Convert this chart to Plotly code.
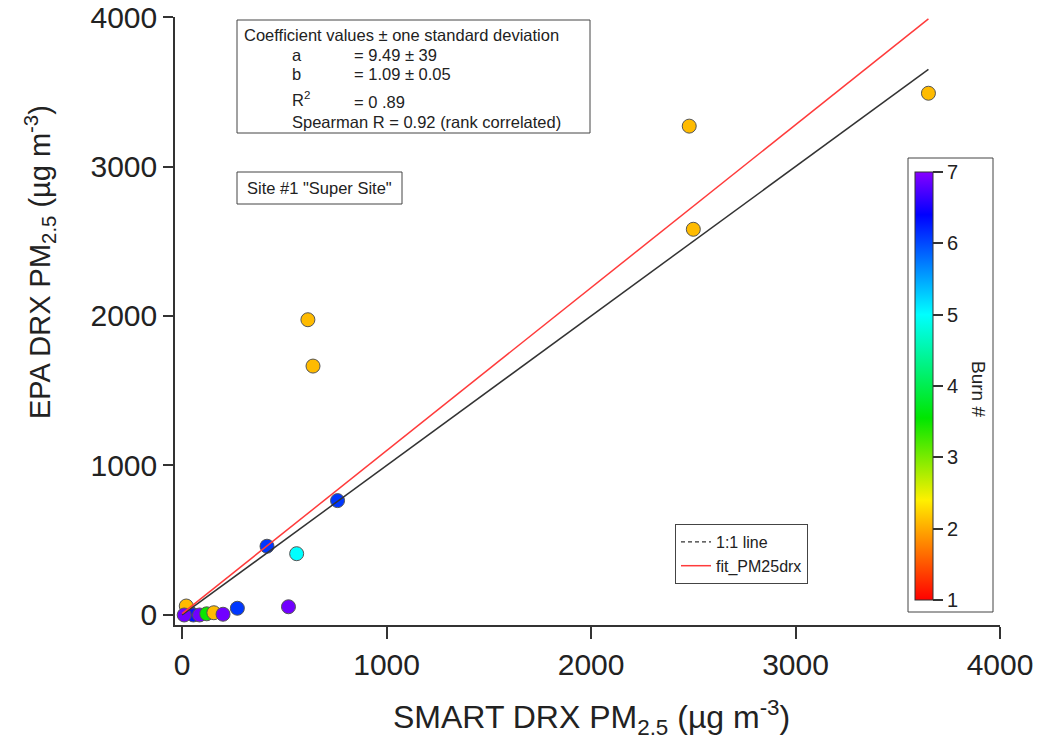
import plotly.graph_objects as go

# ---------------- data ----------------
smart_pm25 = [35, 20, 55, 10, 85, 120, 155, 200, 270,
              2480, 2500, 3650, 615, 640, 760, 415, 560, 520]
epa_pm25 = [20, 60, 0, 0, 0, 8, 15, 5, 45,
            3270, 2580, 3490, 1975, 1665, 765, 460, 410, 55]
burn_no = [5, 2.1, 6.3, 6.9, 6.9, 3.5, 2.1, 6.9, 6.1,
           2.1, 2.1, 2.1, 2.1, 2.1, 6.1, 6.1, 5, 6.9]

fit_a = 9.49
fit_b = 1.09
line_x = [0, 3650]
fit_label = "fit_PM25drx"
one_one_label = "1:1 line"

x_ticks = [0, 1000, 2000, 3000, 4000]
y_ticks = [0, 1000, 2000, 3000, 4000]
cbar_ticks = [1, 2, 3, 4, 5, 6, 7]

coef_lines = [
    ("Coefficient values ± one standard deviation", ""),
    ("a", "= 9.49 ± 39"),
    ("b", "= 1.09 ± 0.05"),
    ("R<sup>2</sup>", "= 0 .89"),
    ("Spearman R = 0.92 (rank correlated)", ""),
]
site_label = 'Site #1 "Super Site"'
x_title = "SMART DRX PM<sub>2.5</sub> (µg m<sup>-3</sup>)"
y_title = "EPA DRX PM<sub>2.5</sub> (µg m<sup>-3</sup>)"
cbar_title = "Burn #"

# ---------------- layout geometry ----------------
W, H = 1039, 740
L, R, T, B = 175, 39, 17, 115
PW, PH = W - L - R, H - T - B


def px(x):
    return (x - L) / PW


def py(y):
    return (H - B - y) / PH


rainbow = [
    [0.0, "rgb(255,0,0)"],
    [0.167, "rgb(255,170,0)"],
    [0.233, "rgb(255,240,0)"],
    [0.425, "rgb(0,230,0)"],
    [0.667, "rgb(0,255,255)"],
    [0.9, "rgb(0,0,255)"],
    [1.0, "rgb(135,0,255)"],
]

FONT = "Liberation Sans, Arial, sans-serif"
TXT = "#222"

fig = go.Figure()

# data markers (drawn first so lines lie on top)
fig.add_trace(go.Scatter(
    x=smart_pm25, y=epa_pm25, mode="markers", showlegend=False,
    marker=dict(size=14, color=burn_no, cmin=1, cmax=7, colorscale=rainbow,
                line=dict(color="#555555", width=1),
                colorbar=dict(
                    x=px(915), xanchor="left", xref="paper",
                    y=py(386), yanchor="middle",
                    lenmode="pixels", len=428, thickness=18,
                    xpad=0, ypad=0,
                    tickvals=cbar_ticks, ticks="outside", ticklen=10,
                    tickwidth=1.5, tickcolor="#333",
                    tickfont=dict(size=20, color=TXT, family=FONT),
                    outlinecolor="#333", outlinewidth=1,
                    borderwidth=0,
                ))))

# 1:1 line (solid on the plot, dashed in the legend)
fig.add_trace(go.Scatter(x=line_x, y=line_x, mode="lines",
                         line=dict(color="#333333", width=1.5),
                         showlegend=False, hoverinfo="skip"))
fig.add_trace(go.Scatter(x=[None], y=[None], mode="lines", name=one_one_label,
                         line=dict(color="#333333", width=1.2, dash="4px,3px")))
# fit line
fig.add_trace(go.Scatter(x=line_x, y=[fit_a + fit_b * v for v in line_x],
                         mode="lines", name=fit_label,
                         line=dict(color="#ff3b3b", width=1.5)))

fig.update_layout(
    width=W, height=H,
    margin=dict(l=L, r=R, t=T, b=B, autoexpand=False),
    paper_bgcolor="white", plot_bgcolor="white",
    font=dict(family=FONT, color=TXT),
    legend=dict(x=px(675), y=py(524), xanchor="left", yanchor="top",
                bordercolor="#444", borderwidth=1, bgcolor="white",
                font=dict(size=16, family=FONT, color=TXT),
                tracegroupgap=0, itemwidth=30),
    xaxis=dict(range=[-35, 4000], tickvals=x_ticks, showgrid=False, zeroline=False,
               showline=True, linecolor="#333", linewidth=1.5, automargin=False,
               ticks="outside", ticklen=12, tickwidth=1.5, tickcolor="#333",
               tickfont=dict(size=30, family=FONT, color=TXT)),
    yaxis=dict(range=[-67, 4000], tickvals=y_ticks, showgrid=False, zeroline=False,
               showline=True, linecolor="#333", linewidth=1.5, automargin=False,
               ticks="outside", ticklen=10, tickwidth=1.5, tickcolor="#333",
               tickfont=dict(size=30, family=FONT, color=TXT)),
)

# Axis titles
fig.add_annotation(x=px(591), y=py(717), xref="paper", yref="paper",
                   xanchor="center", yanchor="middle", showarrow=False,
                   text=x_title, font=dict(size=32, family=FONT, color=TXT))
fig.add_annotation(x=px(40), y=py(262), xref="paper", yref="paper",
                   xanchor="center", yanchor="middle", showarrow=False,
                   textangle=-90, text=y_title,
                   font=dict(size=29, family=FONT, color=TXT))

# Colorbar frame and title
fig.add_shape(type="rect", xref="paper", yref="paper",
              x0=px(908), x1=px(993), y0=py(612), y1=py(158),
              line=dict(color="#444", width=1), fillcolor="rgba(0,0,0,0)",
              layer="above")
fig.add_annotation(x=px(979), y=py(389), xref="paper", yref="paper",
                   xanchor="center", yanchor="middle",
                   text=cbar_title, textangle=90, showarrow=False,
                   font=dict(size=19, family=FONT, color=TXT))

# Coefficient box
fig.add_shape(type="rect", xref="paper", yref="paper",
              x0=px(237), x1=px(590), y0=py(133), y1=py(20),
              line=dict(color="#444", width=1), fillcolor="white", layer="above")
row_y = [35, 55, 74, 99, 122]
for (left, right), yy in zip(coef_lines, row_y):
    lx = 242 if left.startswith("Coeff") else 290
    fig.add_annotation(x=px(lx), y=py(yy), xref="paper", yref="paper",
                       xanchor="left", yanchor="middle", showarrow=False,
                       text=left, font=dict(size=16.5, family=FONT, color=TXT))
    if right:
        fig.add_annotation(x=px(352), y=py(yy + (3 if "R<sup>" in left else 0)),
                           xref="paper", yref="paper",
                           xanchor="left", yanchor="middle", showarrow=False,
                           text=right, font=dict(size=16.5, family=FONT, color=TXT))

# Site box
fig.add_shape(type="rect", xref="paper", yref="paper",
              x0=px(237), x1=px(402), y0=py(204), y1=py(172),
              line=dict(color="#444", width=1), fillcolor="white", layer="above")
fig.add_annotation(x=px(319.5), y=py(188), xref="paper", yref="paper",
                   xanchor="center", yanchor="middle", showarrow=False,
                   text=site_label, font=dict(size=16.5, family=FONT, color=TXT))

fig.write_html("out.html")
